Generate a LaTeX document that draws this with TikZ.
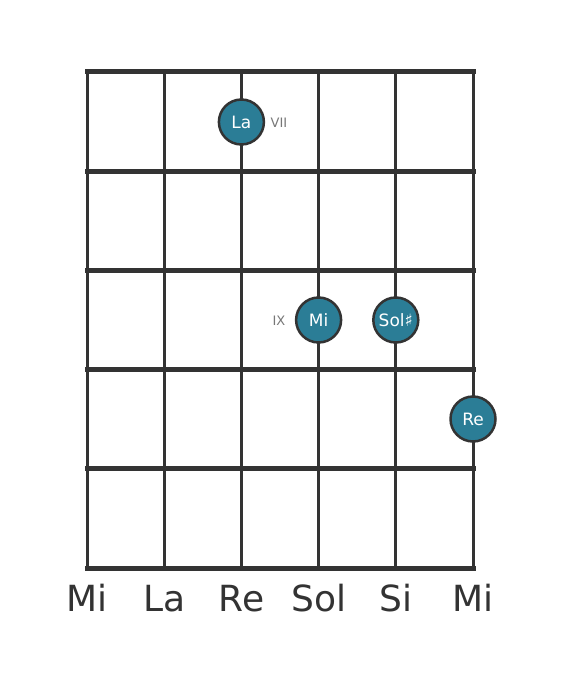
\documentclass[tikz,border=0pt]{standalone}
\usepackage{fontspec}
\setmainfont{DejaVu Sans}
\definecolor{gridc}{HTML}{333333}
\definecolor{notec}{HTML}{2B7D96}
\definecolor{labc}{HTML}{777777}
\tikzset{
  fret/.style={line width=5pt, draw=gridc, line cap=rect},
  strg/.style={line width=3pt, draw=gridc},
  note/.style={circle, fill=notec, draw=gridc, line width=2.5pt, minimum size=45pt, inner sep=0pt, text=white, font=\fontsize{17}{17}\selectfont},
  poslab/.style={text=labc, font=\fontsize{13}{13}\selectfont},
  sname/.style={text=gridc, anchor=base, font=\fontsize{36}{36}\selectfont}
}
\begin{document}
\begin{tikzpicture}[x=1pt,y=-1pt]
\useasboundingbox (0,0) rectangle (568,682);
\foreach \i in {0,...,5}{
  \draw[strg] ({87+77.2*\i},72) -- ({87+77.2*\i},568);
}
\foreach \j in {0,...,5}{
  \draw[fret] (87,{72+99.2*\j}) -- (473,{72+99.2*\j});
}
\node[note] (la) at (241.4,122) {La};
\node[poslab] (vii) at (279,123) {VII};
\node[note] (mi) at (318.6,320) {Mi};
\node[poslab] (ix) at (279,321) {IX};
\node[note] (sol) at (395.8,320) {Sol♯};
\node[note] (re) at (473,419) {Re};
\node[sname] (s1) at (87,611) {Mi};
\node[sname] (s2) at (164.2,611) {La};
\node[sname] (s3) at (241.4,611) {Re};
\node[sname] (s4) at (318.6,611) {Sol};
\node[sname] (s5) at (395.8,611) {Si};
\node[sname] (s6) at (473,611) {Mi};
\end{tikzpicture}
\end{document}
